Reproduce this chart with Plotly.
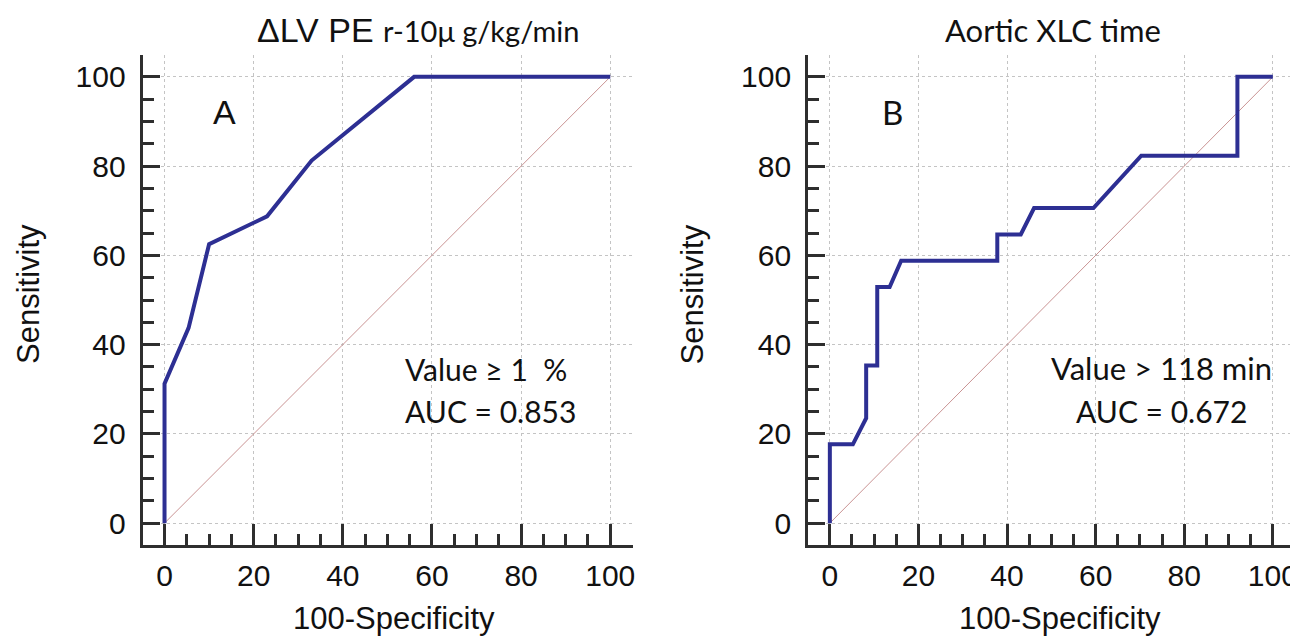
import plotly.graph_objects as go

# ---- data ----
fpr_a = [0, 0, 5.4, 10, 23, 33, 56, 100]
tpr_a = [0, 31.25, 43.75, 62.5, 68.75, 81.25, 100, 100]

fpr_b = [0, 0, 5.2, 8.2, 8.2, 10.7, 10.7, 13.5, 16.1, 37.8, 37.8, 43.1, 46.1, 59.5, 70.3, 92, 92, 100]
tpr_b = [0, 17.65, 17.65, 23.5, 35.3, 35.3, 52.9, 52.9, 58.8, 58.8, 64.7, 64.7, 70.6, 70.6, 82.35, 82.35, 100, 100]

diag = [0, 100]
tick_vals = [0, 20, 40, 60, 80, 100]

# page body adds an 8px margin; the figure is sized so it fills the window
OFF = 8
W, H = 1298 - OFF, 636 - OFF
BLUE = "#2d2f93"
AX = "#2e2e2e"
ARIAL = "Liberation Sans, Arial, sans-serif"
CAL = "Lato, Open Sans, sans-serif"

fig = go.Figure()
fig.add_trace(go.Scatter(x=diag, y=diag, mode="lines", line=dict(color="#c99393", width=1),
                         xaxis="x", yaxis="y", showlegend=False, hoverinfo="skip"))
fig.add_trace(go.Scatter(x=fpr_a, y=tpr_a, mode="lines", line=dict(color=BLUE, width=4),
                         xaxis="x", yaxis="y", showlegend=False))
fig.add_trace(go.Scatter(x=diag, y=diag, mode="lines", line=dict(color="#c99393", width=1),
                         xaxis="x2", yaxis="y2", showlegend=False, hoverinfo="skip"))
fig.add_trace(go.Scatter(x=fpr_b, y=tpr_b, mode="lines", line=dict(color=BLUE, width=4),
                         xaxis="x2", yaxis="y2", showlegend=False))


def px_x(p):
    return (p - OFF) / W


def px_y(p):
    return 1 - (p - OFF) / H


def axis(domain, rng, anchor, ticklen, standoff):
    return dict(
        domain=domain, range=rng, anchor=anchor,
        showline=True, linecolor=AX, linewidth=3, mirror=False,
        ticks="inside", ticklen=ticklen, tickwidth=3, tickcolor=AX,
        tickmode="array", tickvals=tick_vals,
        minor=dict(ticks="inside", ticklen=11, tickwidth=2.5, tickcolor=AX, dtick=5, tick0=0, showgrid=False),
        showgrid=True, gridcolor="#c4c4c4", griddash="dot", gridwidth=1,
        zeroline=False,
        tickfont=dict(family=ARIAL, size=30, color="#111"),
        ticklabelstandoff=standoff,
        ticklabeloverflow="allow",
        fixedrange=True,
    )


ydom = [px_y(545), px_y(55)]
fig.update_layout(
    width=W, height=H,
    margin=dict(l=0, r=0, t=0, b=0),
    paper_bgcolor="white", plot_bgcolor="white",
    xaxis=axis([px_x(143), px_x(634)], [-4.9, 105], "y", 21, 2),
    yaxis=axis(ydom, [-4.9, 104.9], "x", 17, 8),
    xaxis2=axis([px_x(810), 1.0], [-4.9, 105], "y2", 21, 2),
    yaxis2=axis(ydom, [-4.9, 104.9], "x2", 17, 8),
)

anns = []


def txt(text, x, y, size, family, xanchor="center", angle=0):
    anns.append(dict(text=text, x=px_x(x), y=px_y(y), xref="paper", yref="paper",
                     xanchor=xanchor, yanchor="middle", showarrow=False, textangle=angle,
                     borderpad=0,
                     font=dict(size=size, family=family, color="#111")))


# titles
txt("ΔLV PE <span style='font-family:Lato;font-size:29px'>r-10μ g/kg/min</span>", 419, 30, 34, ARIAL)
txt("Aortic XLC time", 1055, 30, 31, CAL)
# axis titles
txt("100-Specificity", 395, 618, 31, ARIAL)
txt("100-Specificity", 1062, 618, 31, ARIAL)
txt("Sensitivity", 28, 294, 31, ARIAL, angle=-90)
txt("Sensitivity", 694, 294, 31, ARIAL, angle=-90)
# panel letters
txt("A", 225, 112, 34, ARIAL)
txt("B", 895, 112, 33, CAL)
# AUC texts
txt("Value ≥ 1  %", 405, 369, 30, CAL, xanchor="left")
txt("AUC = 0.853", 405, 411, 30, CAL, xanchor="left")
txt("Value > 118 min", 1164, 368, 31, CAL)
txt("AUC = 0.672", 1164, 411, 30, CAL)

fig.update_layout(annotations=anns)
fig.write_html("out.html")
